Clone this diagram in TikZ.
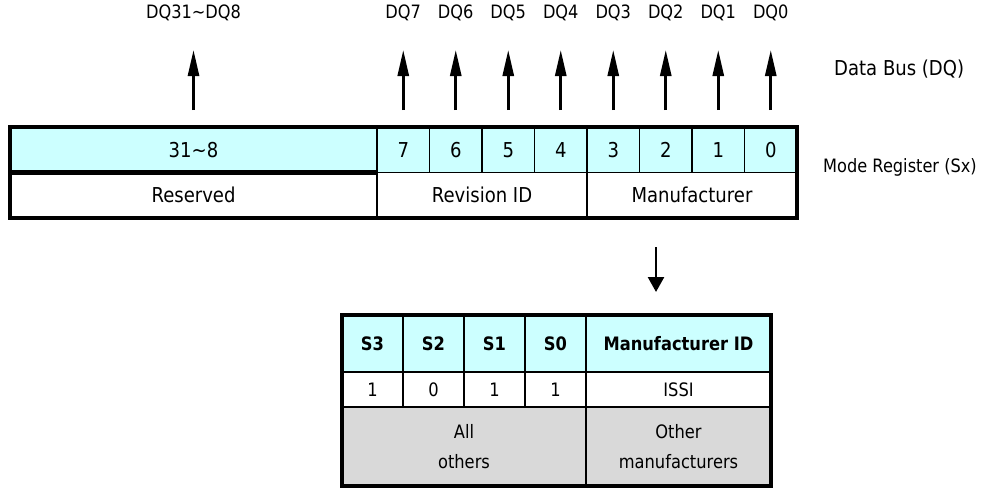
\documentclass[tikz,border=0pt]{standalone}
\usepackage{fontspec}
\setmainfont{DejaVu Sans}[FakeStretch=0.88]
\usetikzlibrary{arrows.meta}

\definecolor{bitcyan}{HTML}{CCFFFF}
\definecolor{othergray}{HTML}{D9D9D9}

\tikzset{
    regcell/.style={draw, line width=1.5pt, inner sep=0pt, outer sep=0pt,
        font=\fontsize{20.5}{24}\selectfont},
    tblcell/.style={draw, line width=1.5pt, inner sep=0pt, outer sep=0pt,
        font=\fontsize{18.5}{30}\selectfont, align=center},
    sidelabel/.style={inner sep=0pt, font=\fontsize{18.4}{22}\selectfont},
    frame/.style={line width=4.5pt},
    uparr/.style={line width=2.7pt, -{Triangle[length=26pt, width=11pt]}},
    downarr/.style={line width=2.5pt, -{Triangle[length=15pt, width=16pt]}}
}

\begin{document}
\begin{tikzpicture}[x=1pt, y=-1pt]
\useasboundingbox (0,0) rectangle (982,490);

% Dimensions
\def\regleft{10}
\def\regsplit{377}
\def\regright{797}
\def\bitw{52.5}
\def\rowa{149.75}
\def\rowb{195.25}

% Mode register - bit row
\node[regcell, fill=bitcyan, minimum width=\regsplit-\regleft, minimum height=45.5]
    (bhi) at ({(\regleft+\regsplit)/2}, \rowa) {31\textasciitilde 8};
\foreach \i in {0,...,7} {
    \node[regcell, fill=bitcyan, minimum width=\bitw, minimum height=45.5]
        (b\i) at ({\regright-\bitw*(\i+0.5)}, \rowa) {\i};
}

% Mode register - fields
\node[regcell, minimum width=\regsplit-\regleft, minimum height=45.5]
    (res) at ({(\regleft+\regsplit)/2}, \rowb) {Reserved};
\node[regcell, minimum width=4*\bitw, minimum height=45.5]
    (rev) at ({\regsplit+2*\bitw}, \rowb) {Revision ID};
\node[regcell, minimum width=4*\bitw, minimum height=45.5]
    (man) at ({\regright-2*\bitw}, \rowb) {Manufacturer};

% Heavy borders
\draw[frame] (bhi.north west) rectangle (man.south east);
\draw[frame] (bhi.south west) -- (bhi.south east);
\draw[line width=2.5pt] (bhi.north east) -- (res.south east);

% Data bus labels and arrows
\node[sidelabel, anchor=base] (dqhi) at (bhi.north |- 0,18) {DQ31\textasciitilde DQ8};
\draw[uparr] ([yshift=17pt]bhi.north) -- ([yshift=-32pt]dqhi.base);
\foreach \i in {0,...,7} {
    \node[sidelabel, anchor=base] (dq\i) at (b\i.north |- 0,18) {DQ\i};
    \draw[uparr] ([yshift=17pt]b\i.north) -- ([yshift=-32pt]dq\i.base);
}

% Side labels
\node[inner sep=0pt, anchor=base west, font=\fontsize{20.5}{24}\selectfont]
    (bus) at (834,75) {Data Bus (DQ)};
\node[sidelabel, anchor=base west] (modereg) at (823,172) {Mode Register (Sx)};

% Arrow down to the table
\coordinate (dtop) at (656,247);
\coordinate (dend) at (656,292);
\draw[downarr] (dtop) -- (dend);

% Manufacturer table
\foreach \s/\v [count=\k from 0] in {3/1, 2/0, 1/1, 0/1} {
    \node[tblcell, fill=bitcyan, minimum width=61, minimum height=57]
        (hs\s) at ({342+61*(\k+0.5)}, 343.5) {\bfseries S\s};
    \node[tblcell, minimum width=61, minimum height=35]
        (vs\s) at ({342+61*(\k+0.5)}, 389.5) {\v};
}
\node[tblcell, fill=bitcyan, minimum width=185, minimum height=57]
    (hid) at (678.5, 343.5) {\bfseries Manufacturer ID};
\node[tblcell, minimum width=185, minimum height=35]
    (issi) at (678.5, 389.5) {ISSI};
\node[tblcell, fill=othergray, minimum width=244, minimum height=79]
    (allo) at (464, 446.5) {All\\others};
\node[tblcell, fill=othergray, minimum width=185, minimum height=79]
    (othm) at (678.5, 446.5) {Other\\manufacturers};
\draw[frame] (hs3.north west) rectangle (othm.south east);

\end{tikzpicture}
\end{document}
